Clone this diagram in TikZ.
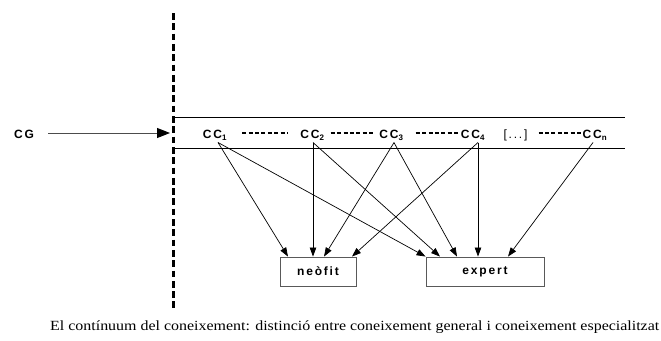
\documentclass[tikz,border=0pt]{standalone}
\usepackage{fontspec}
\usepackage{graphicx}
\setmainfont{Liberation Serif}
\newfontfamily\lblfont[LetterSpace=15]{Liberation Sans}
\usetikzlibrary{arrows.meta}

\tikzset{
  lbl/.style={font=\lblfont\bfseries\fontsize{12}{14}\selectfont, inner sep=2pt},
  termbox/.style={draw=black!65, line width=0.9pt, minimum height=29pt, inner sep=0pt},
  link/.style={-{Triangle[length=9pt,width=6.5pt]}, line width=0.7pt},
  dotrun/.style={dash pattern=on 4pt off 2.4pt, line width=1.1pt},
  border/.style={line width=3pt, dash pattern=on 6.7pt off 3.6pt},
  band/.style={line width=1pt},
}

\begin{document}
\begin{tikzpicture}[x=1pt, y=-1pt]
  \useasboundingbox (0,0) rectangle (661,340);

  % dividing line and the band of specialised knowledge
  \draw[border] (173,13) -- (173,310);
  \draw[band] (173,117) -- (625,117);
  \draw[band] (173,148) -- (625,148);

  % general knowledge entering the band
  \node[lbl, anchor=base] (cg) at (24,138.5) {CG};
  \coordinate (cgend) at (170,133);
  \draw[black!70, line width=1pt, shorten <=12pt,
        -{Triangle[length=13pt,width=10pt,fill=black,color=black]}]
    (cg.east |- cgend) -- (cgend);

  % specialised knowledge nodes
  \node[lbl, anchor=base] (c1) at (215,138.5) {CC\textsubscript{1}};
  \node[lbl, anchor=base] (c2) at (312.5,138.5) {CC\textsubscript{2}};
  \node[lbl, anchor=base] (c3) at (391.5,138.5) {CC\textsubscript{3}};
  \node[lbl, anchor=base] (c4) at (473,138.5) {CC\textsubscript{4}};
  \node[lbl, font=\lblfont\fontsize{12}{14}\selectfont, anchor=base] (etc) at (515.5,138.5) {[...]};
  \node[lbl, anchor=base] (cn) at (595,138.5) {CC\textsubscript{n}};

  % runs of dashes between the nodes
  \draw[dotrun, shorten <=13pt, shorten >=11pt] (c1.east |- 0,133) -- (c2.west |- 0,133);
  \draw[dotrun, shorten <=4pt, shorten >=3pt] (c2.east |- 0,133) -- (c3.west |- 0,133);
  \draw[dotrun, shorten <=10pt, shorten >=1pt] (c3.east |- 0,133) -- (c4.west |- 0,133);
  \draw[dotrun, shorten <=9pt, shorten >=0pt] (etc.east |- 0,133) -- (cn.west |- 0,133);

  % the two kinds of speaker
  \node[lbl, termbox, minimum width=76pt] (neo) at (318,271.5) {neòfit};
  \node[lbl, termbox, minimum width=118pt] (exp) at (485,271.5) {expert};

  % links from each node to the speakers
  \draw[link] ([xshift=3pt]c1.south) -- ([xshift=-30pt]neo.north);
  \draw[link] ([xshift=3pt]c1.south) -- (exp.north west);
  \draw[link] ([xshift=0.5pt]c2.south) -- ([xshift=-5pt]neo.north);
  \draw[link] ([xshift=0.5pt]c2.south) -- ([xshift=-45pt]exp.north);
  \draw[link] ([xshift=2.5pt]c3.south) -- ([xshift=6pt]neo.north);
  \draw[link] ([xshift=2.5pt]c3.south) -- ([xshift=-28pt]exp.north);
  \draw[link] ([xshift=5pt]c4.south) -- ([xshift=34pt]neo.north);
  \draw[link] ([xshift=5pt]c4.south) -- ([xshift=-7pt]exp.north);
  \draw[link] ([xshift=-2pt]cn.south) -- ([xshift=23pt]exp.north);

  % caption
  \node[anchor=base west, inner sep=0pt, font=\fontsize{14}{16}\selectfont] (cap) at (50,330)
    {\resizebox{609pt}{\height}{El contínuum del coneixement: distinció entre coneixement general i coneixement especialitzat}};
\end{tikzpicture}
\end{document}
